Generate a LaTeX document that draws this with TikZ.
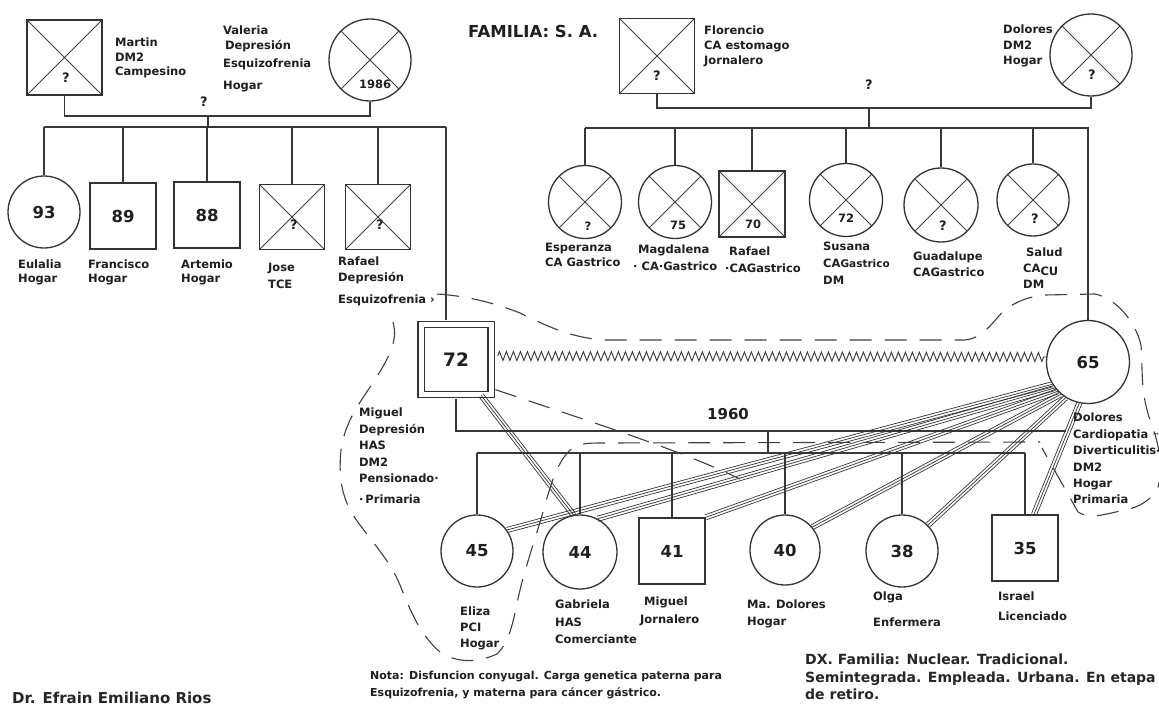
\documentclass[tikz,border=0pt]{standalone}
\usepackage{fontspec}
\setmainfont{DejaVu Sans}
\usetikzlibrary{calc,decorations.pathmorphing}
\newcommand\gnum{\bfseries\fontsize{16.5}{16.5}\selectfont}
\newcommand\gnumL{\bfseries\fontsize{18.5}{18.5}\selectfont}
\newcommand\fusedline[2]{%
  \draw[fz] ($(#1)!2.6pt!90:(#2)$) -- ($(#2)!2.6pt!-90:(#1)$);
  \draw[fz] (#1) -- (#2);
  \draw[fz] ($(#1)!2.6pt!-90:(#2)$) -- ($(#2)!2.6pt!90:(#1)$);}
\begin{document}
\begin{tikzpicture}[x=1pt,y=-1pt,
  ln/.style={draw=black!78, line width=1.2pt},
  fz/.style={draw=black!80, line width=0.7pt},
  male/.style={rectangle, draw=black!80, line width=1.3pt, minimum size=#1, inner sep=0pt, font=\gnum, text=black!88},
  female/.style={circle, draw=black!80, line width=1.3pt, minimum size=#1, inner sep=0pt, font=\gnum, text=black!88},
  dead/.style={path picture={\draw[black!75, line width=0.9pt] (path picture bounding box.north west) -- (path picture bounding box.south east) (path picture bounding box.north east) -- (path picture bounding box.south west);}},
  lbl/.style={anchor=north west, align=left, inner sep=0pt, font=\bfseries\fontsize{11.5}{#1}\selectfont, text=black!88},
  lbl/.default=15,
  qm/.style={inner sep=0pt, font=\bfseries\fontsize{13}{13}\selectfont, text=black!88},
  sm/.style={inner sep=0pt, font=\bfseries\fontsize{11.5}{11.5}\selectfont, text=black!88},
  bd/.style={draw=black!75, line width=1.1pt, dash pattern=on 22pt off 13pt},
  zz/.style={draw=black!78, line width=0.9pt, decorate, decoration={zigzag, segment length=7pt, amplitude=4.5pt}},
]
\fill[white] (0,0) rectangle (1159,706);
\useasboundingbox (0,0) rectangle (1159,706);

% ---------- paternal family ----------
\node[male=75, dead] (martin) at (64.5,57.5) {};
\node[qm] (martinq) at (66,78) {?};
\node[lbl=14.5] (martinl) at (115,38) {Martin\\DM2\\Campesino};
\node[lbl=15] (valerial) at (223,26) {Valeria\\\,Depresión\\[3pt]Esquizofrenia\\[7pt]Hogar};
\node[female=82, dead] (valeria) at (370,60) {};
\node[sm] (valeriay) at (375,84) {1986};
\node[qm] (qA) at (204,102) {?};

\node[female=72] (eulalia) at (44,212) {93};
\node[male=66] (francisco) at (123,216) {89};
\node[male=66] (artemio) at (207,215) {88};
\node[male=65, dead] (jose) at (292,217) {};
\node[qm] (joseq) at (294,225) {?};
\node[male=65, dead] (rafaelA) at (378,217) {};
\node[qm] (rafaelAq) at (380,225) {?};

\node[lbl=14] (eulalial) at (18,260) {Eulalia\\Hogar};
\node[lbl=14] (franciscol) at (88,260) {Francisco\\Hogar};
\node[lbl=14] (artemiol) at (181,260) {Artemio\\Hogar};
\node[lbl=17] (josel) at (268,263) {Jose\\TCE};
\node[lbl=16] (rafaelAl) at (338,257) {Rafael\\Depresión\\[6pt]Esquizofrenia ›};

\coordinate (mA) at (208,116);
\coordinate (sA) at (208,127);
\coordinate (mgTop) at (446,127);
\draw[ln] (martin.south) -- (martin.south |- mA) -- (valeria.south |- mA) -- (valeria.south);
\draw[ln] (mA) -- (sA);
\draw[ln] (eulalia.north |- sA) -- (mgTop);
\foreach \n in {eulalia,francisco,artemio,jose,rafaelA}
  \draw[ln] (\n.north |- sA) -- (\n.north);

% ---------- maternal family ----------
\node[font=\bfseries\fontsize{16.5}{16.5}\selectfont, anchor=west, inner sep=0pt, text=black!88] (titulo) at (468,31) {FAMILIA: S. A.};
\node[male=75, dead] (florencio) at (657,56) {};
\node[qm] (florencioq) at (657,76) {?};
\node[lbl=15] (florenciol) at (704,26) {Florencio\\CA estomago\\Jornalero};
\node[lbl=15.5] (doloresAl) at (1003,25) {Dolores\\DM2\\Hogar};
\node[female=82, dead] (doloresA) at (1091,55) {};
\node[qm] (doloresAq) at (1092,75) {?};
\node[qm] (qB) at (869,85) {?};

\node[female=73, dead] (esperanza) at (585,202) {};
\node[sm] (esperanzaq) at (588,226) {?};
\node[female=73, dead] (magdalena) at (675,202) {};
\node[sm] (magdalenaq) at (678,225) {75};
\node[male=66, dead] (rafaelB) at (752,204) {};
\node[sm] (rafaelBq) at (753,224) {70};
\node[female=73, dead] (susana) at (846,200) {};
\node[sm] (susanaq) at (846,218) {72};
\node[female=74, dead] (guadalupe) at (941,205) {};
\node[qm] (guadalupeq) at (943,226) {?};
\node[female=72, dead] (salud) at (1033,200) {};
\node[qm] (saludq) at (1035,219) {?};

\node[lbl=14.5] (esperanzal) at (545,243) {Esperanza\\CA Gastrico};
\node[lbl=17] (magdalenal) at (633,245) {\hspace*{5pt}Magdalena\\· CA·Gastrico};
\node[lbl=17] (rafaelBl) at (725,247) {\hspace*{4pt}Rafael\\·CAGastrico};
\node[lbl=17] (susanal) at (823,242) {Susana\\CA{\fontsize{10.5}{10}\selectfont Gastrico}\\DM};
\node[lbl=16] (guadalupel) at (913,252) {Guadalupe\\CAGastrico};
\node[lbl=16] (saludl) at (1023,248) {\hspace*{3pt}Salud\\CA\raisebox{-3pt}{CU}\\DM};

% ---------- nuclear family ----------
\node[male=70, double, double distance=5pt, font=\gnumL] (miguel) at (456,359.5) {72};
\node[female=83] (dolores) at (1088,362) {65};
\node[lbl=16.5] (miguell) at (359,408) {Miguel\\Depresión\\HAS\\DM2\\Pensionado·\\[4pt]·\,Primaria};
\node[lbl=16.4] (doloresl) at (1073,413) {Dolores\\Cardiopatia {\fontsize{7}{7}\selectfont ™}\\Diverticulitis{\color{blue!55!black}-}\\DM2\\Hogar\\Primaria};
\node[font=\bfseries\fontsize{15}{15}\selectfont, inner sep=0pt, text=black!88] (anio) at (728,414) {1960};

\coordinate (mB) at (869,108);
\coordinate (sB) at (869,128);
\draw[ln] (florencio.south) -- (florencio.south |- mB) -- (doloresA.south |- mB) -- (doloresA.south);
\draw[ln] (mB) -- (sB);
\draw[ln] (esperanza.north |- sB) -- (dolores.north |- sB) -- (dolores.north);
\foreach \n in {esperanza,magdalena,rafaelB,susana,guadalupe,salud}
  \draw[ln] (\n.north |- sB) -- (\n.north);

\draw[ln, shorten >=3.8pt] (mgTop) -- (mgTop |- miguel.north);

\node[female=72] (eliza) at (477,551) {45};
\node[female=74] (gabriela) at (580,552) {44};
\node[male=66] (miguelB) at (672,551) {41};
\node[female=70] (madolores) at (785,550) {40};
\node[female=72] (olga) at (902,551) {38};
\node[male=66] (israel) at (1025,548) {35};

\node[lbl=16] (elizal) at (460,607) {Eliza\\PCI\\Hogar};
\node[lbl=17.5] (gabrielal) at (555,600) {Gabriela\\HAS\\Comerciante};
\node[lbl=18] (miguelBl) at (640,597) {\hspace*{4pt}Miguel\\Jornalero};
\node[lbl=17] (madoloresl) at (747,600) {Ma. Dolores\\Hogar};
\node[lbl=26] (olgal) at (873,592) {Olga\\Enfermera};
\node[lbl=20] (israell) at (998,592) {Israel\\Licenciado};

\coordinate (mC) at (768,431);
\coordinate (mCend) at (1066,431);
\coordinate (sC) at (768,453);
\draw[ln, shorten <=3.8pt] (miguel.south) -- (miguel.south |- mC) -- (mCend);
\draw[ln] (mC) -- (sC);
\draw[ln] (eliza.north |- sC) -- (israel.north |- sC);
\foreach \n in {eliza,gabriela,miguelB,madolores,olga,israel}
  \draw[ln] (\n.north |- sC) -- (\n.north);

% conflict
\draw[zz] ($(miguel.east)+(6,-3.5)$) -- ($(dolores.west)+(0.5,-5)$);

% fused relations
\fusedline{miguel.-55}{gabriela.100}
\fusedline{dolores.212}{eliza.35}
\fusedline{dolores.218}{gabriela.62}
\fusedline{dolores.224}{miguelB.north east}
\fusedline{dolores.230}{madolores.40}
\fusedline{dolores.238}{olga.45}
\fusedline{dolores.258}{israel.75}

% dashed boundaries
\draw[bd] (437,294) .. controls (470,296) and (500,305) .. (520,313)
  .. controls (545,325) and (570,338) .. (605,340) -- (965,340)
  .. controls (985,338) and (995,318) .. (1005,310)
  .. controls (1015,302) and (1030,296) .. (1045,295) -- (1095,294)
  .. controls (1115,298) and (1135,320) .. (1141,345)
  .. controls (1143,370) and (1140,390) .. (1150,420)
  .. controls (1158,440) and (1165,470) .. (1157,490)
  .. controls (1150,500) and (1140,507) .. (1125,510)
  .. controls (1105,514) and (1090,520) .. (1078,512) -- (1042,448);
\draw[bd] (393,322) .. controls (398,340) and (390,355) .. (378,375)
  .. controls (362,400) and (345,420) .. (341,450)
  .. controls (338,480) and (343,500) .. (355,518)
  .. controls (370,540) and (390,560) .. (400,585)
  .. controls (410,610) and (420,635) .. (440,652)
  .. controls (455,662) and (475,664) .. (497,654)
  .. controls (512,640) and (515,610) .. (520,590)
  .. controls (526,565) and (535,540) .. (545,505)
  .. controls (552,480) and (558,462) .. (570,450)
  .. controls (578,444) and (585,443) .. (600,443) -- (1040,442);
\draw[bd, shorten <=4pt] (miguel.-39) .. controls (600,425) and (680,450) .. (740,479);

% notes
\node[anchor=north west, align=left, inner sep=0pt, font=\bfseries\fontsize{11}{17}\selectfont, text=black!88] (nota) at (370,671) {Nota: Disfuncion conyugal. Carga genetica paterna para\\Esquizofrenia, y materna para cáncer gástrico.};
\node[anchor=north west, align=left, inner sep=0pt, font=\bfseries\fontsize{14}{17.5}\selectfont, text=black!85] (dx) at (805,654) {DX. Familia: Nuclear. Tradicional.\\Semintegrada. Empleada. Urbana. En etapa\\de retiro.};
\node[anchor=base west, inner sep=0pt, font=\bfseries\fontsize{15}{15}\selectfont, text=black!85] (dr) at (12,703) {Dr. Efrain Emiliano Rios};
\end{tikzpicture}
\end{document}
